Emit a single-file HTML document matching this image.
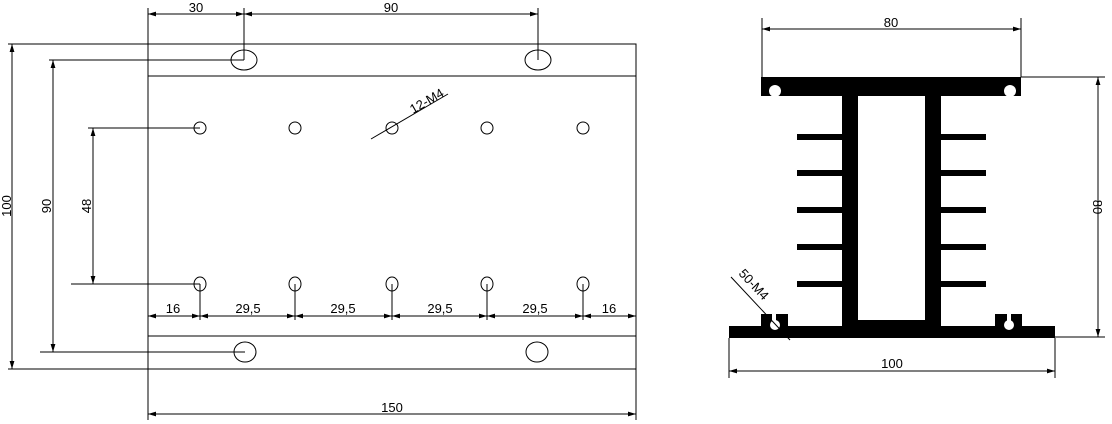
<!DOCTYPE html>
<html><head><meta charset="utf-8"><style>body{margin:0;background:#fff}svg{display:block}</style></head><body>
<svg width="1112" height="424" viewBox="0 0 1112 424" xmlns="http://www.w3.org/2000/svg" font-family="Liberation Sans, sans-serif" font-size="13">
<defs><marker id="a" viewBox="0 0 10 6" refX="10" refY="3" markerWidth="8" markerHeight="5" orient="auto-start-reverse"><path d="M0,0L10,3L0,6z" fill="#000"/></marker></defs>
<g stroke="#000" stroke-width="1" fill="none">
<rect x="148" y="44" width="488" height="325"/>
<line x1="148" y1="76" x2="636" y2="76"/>
<line x1="148" y1="336" x2="636" y2="336"/>
<ellipse cx="244" cy="60" rx="13" ry="10"/><ellipse cx="538" cy="60" rx="13" ry="10"/>
<ellipse cx="245" cy="352" rx="11" ry="10"/><ellipse cx="537" cy="352" rx="11" ry="10"/>
<g>
<ellipse cx="200" cy="128" rx="6" ry="6"/><ellipse cx="295" cy="128" rx="6" ry="6"/><ellipse cx="392" cy="128" rx="6" ry="6"/><ellipse cx="487" cy="128" rx="6" ry="6"/><ellipse cx="583" cy="128" rx="6" ry="6"/>
<ellipse cx="200" cy="284" rx="6" ry="7"/><ellipse cx="295" cy="284" rx="6" ry="7"/><ellipse cx="392" cy="284" rx="6" ry="7"/><ellipse cx="487" cy="284" rx="6" ry="7"/><ellipse cx="583" cy="284" rx="6" ry="7"/>
</g>
<line x1="148" y1="8" x2="148" y2="44"/><line x1="244" y1="8" x2="244" y2="60"/><line x1="538" y1="8" x2="538" y2="60"/>
<line x1="148" y1="14" x2="244" y2="14" marker-start="url(#a)" marker-end="url(#a)"/>
<line x1="244" y1="14" x2="538" y2="14" marker-start="url(#a)" marker-end="url(#a)"/>
<line x1="8" y1="44" x2="148" y2="44"/><line x1="8" y1="369" x2="148" y2="369"/>
<line x1="12" y1="44" x2="12" y2="369" marker-start="url(#a)" marker-end="url(#a)"/>
<line x1="49" y1="60" x2="244" y2="60"/><line x1="40" y1="352" x2="245" y2="352"/>
<line x1="53" y1="60" x2="53" y2="352" marker-start="url(#a)" marker-end="url(#a)"/>
<line x1="88" y1="128" x2="200" y2="128"/><line x1="71" y1="284" x2="200" y2="284"/>
<line x1="93" y1="128" x2="93" y2="284" marker-start="url(#a)" marker-end="url(#a)"/>
<line x1="200" y1="284" x2="200" y2="320"/><line x1="295" y1="284" x2="295" y2="320"/><line x1="392" y1="284" x2="392" y2="320"/><line x1="487" y1="284" x2="487" y2="320"/><line x1="583" y1="284" x2="583" y2="320"/>
<line x1="148" y1="316" x2="200" y2="316" marker-start="url(#a)" marker-end="url(#a)"/>
<line x1="200" y1="316" x2="295" y2="316" marker-start="url(#a)" marker-end="url(#a)"/>
<line x1="295" y1="316" x2="392" y2="316" marker-start="url(#a)" marker-end="url(#a)"/>
<line x1="392" y1="316" x2="487" y2="316" marker-start="url(#a)" marker-end="url(#a)"/>
<line x1="487" y1="316" x2="583" y2="316" marker-start="url(#a)" marker-end="url(#a)"/>
<line x1="583" y1="316" x2="636" y2="316" marker-start="url(#a)" marker-end="url(#a)"/>
<line x1="148" y1="369" x2="148" y2="420"/><line x1="636" y1="369" x2="636" y2="420"/>
<line x1="148" y1="414" x2="636" y2="414" marker-start="url(#a)" marker-end="url(#a)"/>
<line x1="371" y1="139" x2="448" y2="94"/>
</g>
<g fill="#000">
<text x="196" y="12" text-anchor="middle">30</text>
<text x="391" y="12" text-anchor="middle">90</text>
<text transform="translate(11,206) rotate(-90)" text-anchor="middle">100</text>
<text transform="translate(51,206) rotate(-90)" text-anchor="middle">90</text>
<text transform="translate(91,206) rotate(-90)" text-anchor="middle">48</text>
<text x="173" y="313" text-anchor="middle">16</text>
<text x="248" y="313" text-anchor="middle">29,5</text>
<text x="343" y="313" text-anchor="middle">29,5</text>
<text x="440" y="313" text-anchor="middle">29,5</text>
<text x="535" y="313" text-anchor="middle">29,5</text>
<text x="609" y="313" text-anchor="middle">16</text>
<text x="392" y="412" text-anchor="middle">150</text>
<text transform="translate(413,114) rotate(-30)">12-M4</text>
</g>
<g fill="#000">
<rect x="761" y="77" width="260" height="19"/>
<rect x="842" y="96" width="16" height="230"/>
<rect x="925" y="96" width="16" height="230"/>
<rect x="858" y="320" width="67" height="6"/>
<rect x="729" y="326" width="326" height="12"/>
<rect x="761" y="314" width="27" height="12"/>
<rect x="995" y="314" width="27" height="12"/>
<rect x="797" y="134" width="45" height="6"/><rect x="797" y="170" width="45" height="6"/><rect x="797" y="207" width="45" height="6"/><rect x="797" y="244" width="45" height="6"/><rect x="797" y="281" width="45" height="6"/>
<rect x="941" y="134" width="45" height="6"/><rect x="941" y="170" width="45" height="6"/><rect x="941" y="207" width="45" height="6"/><rect x="941" y="244" width="45" height="6"/><rect x="941" y="281" width="45" height="6"/>
</g>
<g fill="#fff">
<circle cx="775" cy="91" r="6"/><circle cx="1010" cy="91" r="6"/>
<rect x="772" y="314" width="4" height="8"/><circle cx="775" cy="325" r="5"/>
<rect x="1007" y="314" width="4" height="8"/><circle cx="1009" cy="325" r="5"/>
</g>
<g stroke="#000" stroke-width="1" fill="none">
<line x1="762" y1="18" x2="762" y2="77"/><line x1="1021" y1="18" x2="1021" y2="77"/>
<line x1="762" y1="29" x2="1021" y2="29" marker-start="url(#a)" marker-end="url(#a)"/>
<line x1="1021" y1="77" x2="1105" y2="77"/><line x1="1055" y1="337" x2="1105" y2="337"/>
<line x1="1098" y1="77" x2="1098" y2="337" marker-start="url(#a)" marker-end="url(#a)"/>
<line x1="729" y1="338" x2="729" y2="378"/><line x1="1055" y1="338" x2="1055" y2="378"/>
<line x1="729" y1="371" x2="1055" y2="371" marker-start="url(#a)" marker-end="url(#a)"/>
<line x1="731" y1="277" x2="790" y2="340"/>
</g>
<g fill="#000">
<text x="891" y="27" text-anchor="middle">80</text>
<text transform="translate(1093,207) rotate(90)" text-anchor="middle">80</text>
<text x="892" y="368" text-anchor="middle">100</text>
<text transform="translate(738,274) rotate(47)">50-M4</text>
</g>
</svg>
</body></html>
